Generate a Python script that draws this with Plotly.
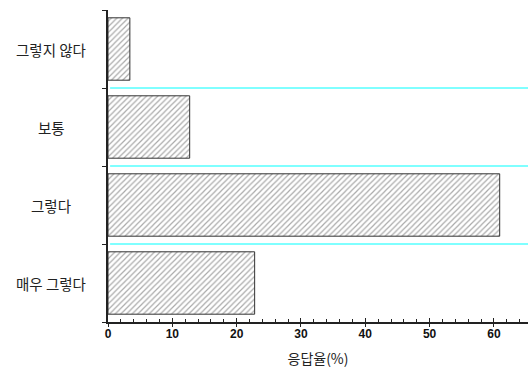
import plotly.graph_objects as go

categories = ["매우 그렇다", "그렇다", "보통", "그렇지 않다"]
values = [22.8, 60.9, 12.7, 3.4]
x_title = "응답율(%)"

idx = list(range(len(categories)))
x_range = [0, 65.3]

fig = go.Figure()
fig.add_trace(go.Bar(
    x=values, y=idx, orientation="h", width=0.8,
    marker=dict(color="white", line=dict(color="#333", width=1),
                pattern=dict(shape="/", fgcolor="#555", bgcolor="white", size=4, solidity=0.3)),
    showlegend=False, hoverinfo="x+y",
))
# invisible trace to carry the overlay axis (outer halves of the major ticks)
fig.add_trace(go.Scatter(x=[values[0]], y=[idx[0]], xaxis="x2", mode="markers",
                         marker=dict(opacity=0), showlegend=False, hoverinfo="skip"))

# cyan separators between categories
for i in range(len(categories) - 1):
    fig.add_shape(type="line", xref="paper", x0=0.005, x1=1, yref="y", y0=i + 0.5, y1=i + 0.5,
                  line=dict(color="#00ffff", width=1), layer="below")

# category labels centered to the left
for i, c in enumerate(categories):
    fig.add_annotation(x=-0.135, xref="paper", y=i, yref="y", text=c, showarrow=False,
                       xanchor="center", font=dict(family="Noto Sans CJK KR", size=14.5, color="#222"))

fig.update_layout(
    width=528, height=376,
    margin=dict(l=108, r=0, t=10, b=54),
    plot_bgcolor="white", paper_bgcolor="white",
    xaxis=dict(range=x_range, tick0=0, dtick=10, ticks="inside", ticklen=4, tickwidth=1,
               tickcolor="#222", showline=True, linecolor="#222", linewidth=1.5,
               showgrid=False, zeroline=False,
               tickfont=dict(family="Liberation Sans", size=12, color="#111", weight="bold"),
               minor=dict(dtick=2, tick0=0, ticks="inside", ticklen=3, tickwidth=1, tickcolor="#222", showgrid=False),
               title=dict(text=x_title, font=dict(family="Noto Sans CJK KR", size=14, color="#222"), standoff=14)),
    xaxis2=dict(range=x_range, overlaying="x", side="bottom", anchor="y", tick0=0, dtick=10,
                ticks="outside", ticklen=4, tickwidth=1, tickcolor="#222", showticklabels=False,
                showgrid=False, zeroline=False, showline=False),
    yaxis=dict(range=[-0.5, len(categories) - 0.5], showline=True, linecolor="#222", linewidth=1.5,
               showticklabels=False, tickvals=[], showgrid=False, zeroline=False,
               minor=dict(tick0=0.5, dtick=1, ticks="outside", ticklen=4, tickcolor="#222", showgrid=False)),
    font=dict(family="Noto Sans CJK KR"),
)

fig.write_html("out.html")
